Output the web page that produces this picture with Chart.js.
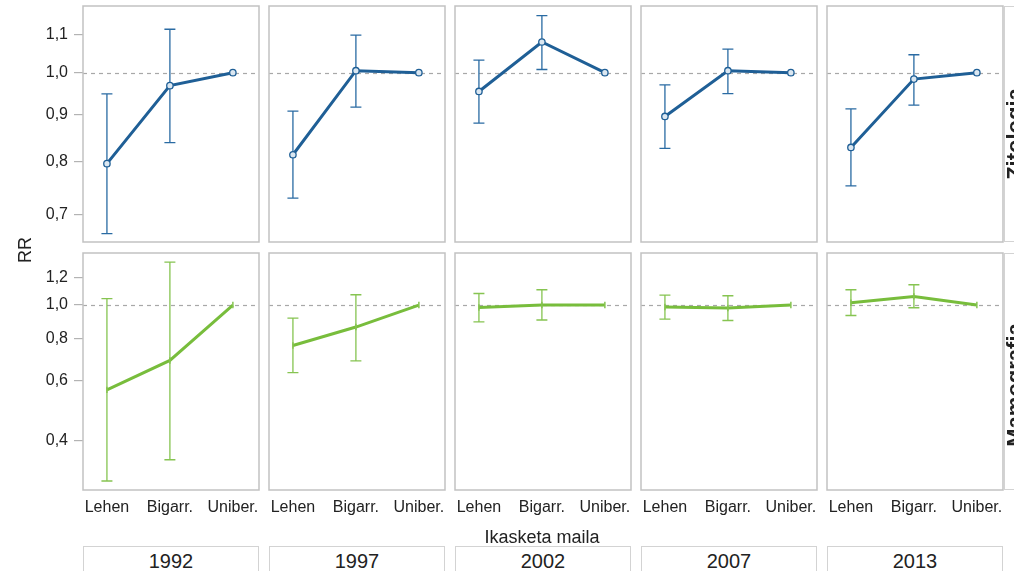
<!DOCTYPE html>
<html>
<head>
<meta charset="utf-8">
<script src="https://cdn.jsdelivr.net/npm/chart.js@4.4.0/dist/chart.umd.min.js"></script>
<style>
  html, body { margin: 0; padding: 0; background: #fff; }
  #wrap { position: relative; width: 1014px; height: 571px; overflow: hidden;
          font-family: "Liberation Sans", Arial, Helvetica, sans-serif; color: #222; }
  #wrap canvas { position: absolute; }
  .strip { position: absolute; border: 1px solid #d3d3d3; box-sizing: border-box; background: #fff; }
  .txt { position: absolute; white-space: nowrap; line-height: 1; }
</style>
</head>
<body>
<div id="wrap"></div>
<script>
// Education level categories and survey years
const categories = ['Lehen', 'Bigarr.', 'Uniber.'];
const years = ['1992', '1997', '2002', '2007', '2013'];
const rowNames = ['Zitologia', 'Mamografia'];

// Y tick values for each row
const zitoTicks = [0.7, 0.8, 0.9, 1.0, 1.1];
const mamoTicks = [0.4, 0.6, 0.8, 1.0, 1.2];

// Zitologia: relative risk and 95% CI per year (Lehen, Bigarr., Uniber.)
const zitoRR = [[0.796, 0.968, 1], [0.814, 1.005, 1], [0.954, 1.080, 1], [0.896, 1.005, 1], [0.829, 0.984, 1]];
const zitoLo = [[0.668, 0.839, null], [0.730, 0.917, null], [0.881, 1.008, null], [0.827, 0.949, null], [0.753, 0.922, null]];
const zitoHi = [[0.948, 1.115, null], [0.908, 1.099, null], [1.032, 1.154, null], [0.970, 1.061, null], [0.913, 1.046, null]];

// Mamografia: relative risk and 95% CI per year
const mamoRR = [[0.564, 0.688, 1], [0.761, 0.862, 1], [0.984, 1.000, 1], [0.987, 0.980, 1], [1.016, 1.060, 1]];
const mamoLo = [[0.305, 0.352, null], [0.634, 0.686, null], [0.893, 0.904, null], [0.910, 0.901, null], [0.932, 0.982, null]];
const mamoHi = [[1.044, 1.337, null], [0.916, 1.072, null], [1.081, 1.109, null], [1.070, 1.065, null], [1.109, 1.147, null]];

const FONT = '"Liberation Sans", Arial, Helvetica, sans-serif';
const wrap = document.getElementById('wrap');

// Panel geometry
const PANEL_W = 176, COL_STEP = 186, LEFT0 = 83;
const ROW_TOP = [6, 253], ROW_H = [236, 237];
const Y_AXIS_W = 83, X_AXIS_H = 44, PAD = 4;

const rowDefs = [
  { rr: zitoRR, lo: zitoLo, hi: zitoHi, ticks: zitoTicks, min: 0.654, max: 1.182,
    line: '#1f5f96', bar: '#2a6ba3', point: 'circle' },
  { rr: mamoRR, lo: mamoLo, hi: mamoHi, ticks: mamoTicks, min: 0.287, max: 1.421,
    line: '#78bd3c', bar: '#86c451', point: 'line' }
];

// Reference line at RR = 1, error bars and the panel frame
function panelDecor(lo, hi, color) {
  return {
    id: 'panelDecor',
    beforeDatasetsDraw(chart) {
      const { ctx, chartArea: a, scales: { x, y } } = chart;
      ctx.save();
      const yRef = Math.round(y.getPixelForValue(1)) + 0.5;
      ctx.strokeStyle = '#a8a8a8';
      ctx.lineWidth = 1.2;
      ctx.setLineDash([4, 4]);
      ctx.beginPath();
      ctx.moveTo(a.left, yRef);
      ctx.lineTo(a.right, yRef);
      ctx.stroke();
      ctx.setLineDash([]);
      ctx.strokeStyle = color;
      ctx.lineWidth = 1.3;
      lo.forEach((l, i) => {
        const h = hi[i];
        if (l == null || h == null) return;
        const px = x.getPixelForValue(i);
        const p1 = y.getPixelForValue(l);
        const p2 = y.getPixelForValue(h);
        ctx.beginPath();
        ctx.moveTo(px, p1); ctx.lineTo(px, p2);
        ctx.moveTo(px - 5.5, p1); ctx.lineTo(px + 5.5, p1);
        ctx.moveTo(px - 5.5, p2); ctx.lineTo(px + 5.5, p2);
        ctx.stroke();
      });
      ctx.restore();
    },
    afterDraw(chart) {
      const { ctx, chartArea: a } = chart;
      ctx.save();
      ctx.strokeStyle = '#c2c2c2';
      ctx.lineWidth = 1.5;
      ctx.strokeRect(a.left, a.top, a.right - a.left, a.bottom - a.top);
      ctx.restore();
    }
  };
}

function addText(text, cx, cy, size, opts = {}) {
  const d = document.createElement('div');
  d.className = 'txt';
  d.textContent = text;
  d.style.fontSize = size + 'px';
  if (opts.bold) d.style.fontWeight = 'bold';
  d.style.left = cx + 'px';
  d.style.top = cy + 'px';
  d.style.transform = 'translate(-50%, -50%)' + (opts.rotate ? ' rotate(' + opts.rotate + 'deg)' : '');
  wrap.appendChild(d);
}

rowDefs.forEach((rd, r) => {
  years.forEach((yr, c) => {
    const panelLeft = LEFT0 + COL_STEP * c;
    const showY = c === 0, showX = r === 1;
    const w = PANEL_W + (showY ? Y_AXIS_W : 0) + 2 * PAD;
    const h = ROW_H[r] + (showX ? X_AXIS_H : 0) + 2 * PAD;
    const cv = document.createElement('canvas');
    cv.width = w; cv.height = h;
    cv.style.width = w + 'px'; cv.style.height = h + 'px';
    cv.style.left = (panelLeft - (showY ? Y_AXIS_W : 0) - PAD) + 'px';
    cv.style.top = (ROW_TOP[r] - PAD) + 'px';
    wrap.appendChild(cv);

    const isCircle = rd.point === 'circle';
    new Chart(cv.getContext('2d'), {
      type: 'line',
      data: {
        datasets: [{
          data: rd.rr[c].map((v, i) => ({ x: i, y: v })),
          borderColor: rd.line,
          borderWidth: 3,
          tension: 0,
          pointStyle: rd.point,
          pointRotation: isCircle ? 0 : 90,
          pointRadius: 3.2,
          pointBorderWidth: isCircle ? 1.3 : 1.5,
          pointBorderColor: isCircle ? rd.line : rd.bar,
          pointBackgroundColor: isCircle ? '#dbe7f1' : rd.bar,
          pointHoverRadius: 3.2
        }]
      },
      options: {
        responsive: false,
        animation: false,
        devicePixelRatio: 1,
        layout: { padding: PAD, autoPadding: false },
        plugins: { legend: { display: false }, tooltip: { enabled: false } },
        scales: {
          x: {
            type: 'linear', min: -0.38, max: 2.415, display: showX,
            afterBuildTicks: s => { s.ticks = categories.map((_, i) => ({ value: i })); },
            afterFit: s => { s.height = showX ? X_AXIS_H : 0; s.paddingLeft = 0; s.paddingRight = 0; },
            ticks: { callback: v => categories[v], font: { size: 16, family: FONT }, color: '#222',
                     padding: 8, maxRotation: 0, autoSkip: false },
            grid: { display: false, drawTicks: false },
            border: { display: false }
          },
          y: {
            type: 'logarithmic', min: rd.min, max: rd.max, display: showY,
            afterBuildTicks: s => { s.ticks = rd.ticks.map(v => ({ value: v })); },
            afterFit: s => { s.width = showY ? Y_AXIS_W : 0; s.paddingTop = 0; s.paddingBottom = 0; },
            ticks: { callback: v => Number(v).toFixed(1).replace('.', ','), font: { size: 16, family: FONT },
                     color: '#222', padding: 6, autoSkip: false },
            grid: { drawOnChartArea: false, drawTicks: true, tickLength: 9, color: '#b3b3b3', lineWidth: 1.2 },
            border: { display: false }
          }
        }
      },
      plugins: [panelDecor(rd.lo[c], rd.hi[c], rd.bar)]
    });
  });
});

// Year strips under the panels
years.forEach((yr, c) => {
  const left = LEFT0 + COL_STEP * c;
  const s = document.createElement('div');
  s.className = 'strip';
  s.style.left = left + 'px';
  s.style.top = '546px';
  s.style.width = PANEL_W + 'px';
  s.style.height = '40px';
  wrap.appendChild(s);
  addText(yr, left + PANEL_W / 2, 561, 20);
});

// Row strips on the right
rowNames.forEach((name, r) => {
  const s = document.createElement('div');
  s.className = 'strip';
  s.style.left = '1004px';
  s.style.top = ROW_TOP[r] + 'px';
  s.style.width = '40px';
  s.style.height = ROW_H[r] + 'px';
  wrap.appendChild(s);
});
addText(rowNames[0], 1015, 134, 22, { bold: true, rotate: -90 });
addText(rowNames[1], 1015, 385, 22, { bold: true, rotate: -90 });

// Axis titles
addText('RR', 25, 250, 18, { rotate: -90 });
addText('Ikasketa maila', 542, 537, 18);
</script>
</body>
</html>
